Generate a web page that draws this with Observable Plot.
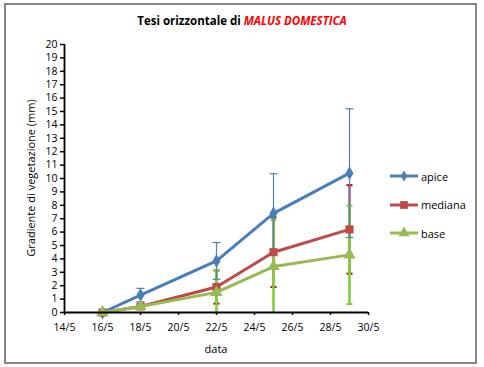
<!DOCTYPE html>
<html>
<head>
<meta charset="utf-8">
<script src="https://cdn.jsdelivr.net/npm/d3@7"></script>
<script src="https://cdn.jsdelivr.net/npm/@observablehq/plot@0.6"></script>
<style>
  body { margin: 0; background: #fff; }
  #wrap { position: relative; width: 484px; height: 367px; font-family: "Open Sans", "Noto Sans", sans-serif; }
  #frame { position: absolute; left: 4px; top: 3px; width: 469px; height: 357px; border: 2px solid #858585; }
  #title { position: absolute; left: 0; width: 484px; top: 13px; text-align: center; font-size: 11.5px; font-weight: bold; color: #000; }
  #title span { color: #ff0000; font-style: italic; }
  #ylab { position: absolute; left: 30px; top: 178px; transform: translate(-50%, -50%) rotate(-90deg); white-space: nowrap; font-size: 11px; }
  #xlab { position: absolute; left: 216px; top: 348px; transform: translate(-50%, -50%); font-size: 11px; }
  #legend { position: absolute; left: 388px; top: 162px; font-size: 11px; }
  .item { display: flex; align-items: center; height: 28.5px; }
  .item svg { margin-right: 1px; }
  svg.plot { position: absolute; left: 0; top: 0; }
</style>
</head>
<body>
<div id="wrap">
  <div id="frame"></div>
  <div id="title">Tesi orizzontale di <span>MALUS DOMESTICA</span></div>
  <div id="ylab">Gradiente di vegetazione (mm)</div>
  <div id="xlab">data</div>
  <div id="legend"></div>
</div>
<script>
// Data (day of May)
const dates = [16, 18, 22, 25, 29];
const apice = [0, 1.3, 3.85, 7.4, 10.4];
const apiceErr = [0, 0.5, 1.37, 2.95, 4.8];
const mediana = [0, 0.45, 1.9, 4.5, 6.2];
const medianaErr = [0, 0.1, 1.24, 2.6, 3.3];
const base = [0, 0.45, 1.5, 3.43, 4.3];
const baseErr = [0, 0.1, 1.68, 3.47, 3.67];
const xTicks = [14, 16, 18, 20, 22, 24, 26, 28, 30];
const yTicks = d3.range(0, 21);
const seriesNames = ["apice", "mediana", "base"];

const series = [
  {name: seriesNames[0], vals: apice, err: apiceErr, color: "#4a7ebb", errColor: "#4f81bd", errW: 1.2, cap: 4, symbol: "diamond", r: 4.2},
  {name: seriesNames[1], vals: mediana, err: medianaErr, color: "#be4b48", errColor: "#c00000", errW: 2, cap: 3, symbol: "square", r: 4.6},
  {name: seriesNames[2], vals: base, err: baseErr, color: "#98b954", errColor: "#7ed03b", errW: 2.6, cap: 3, symbol: "triangle", r: 4.6}
];
const rows = s => dates.map((d, i) => ({x: d, y: s.vals[i], lo: s.vals[i] - s.err[i], hi: s.vals[i] + s.err[i]}));

const capSym = w => ({draw(ctx, size) { ctx.moveTo(-w, 0); ctx.lineTo(w, 0); }});

const errOrder = [series[1], series[2], series[0]];
const marks = [];
for (const s of errOrder) {
  const data = rows(s).filter(d => d.hi > d.lo);
  marks.push(Plot.ruleX(data, {x: "x", y1: d => Math.max(0, d.lo), y2: "hi", stroke: s.errColor, strokeWidth: s.errW}));
  marks.push(Plot.dot(data, {x: "x", y: "hi", symbol: capSym(s.cap), r: 3, stroke: s.errColor, strokeWidth: Math.min(2, s.errW), fill: "none"}));
  marks.push(Plot.dot(data.filter(d => d.lo >= 0), {x: "x", y: "lo", symbol: capSym(s.cap), r: 3, stroke: s.errColor, strokeWidth: Math.min(2, s.errW), fill: "none"}));
}
for (const s of series) {
  const data = rows(s);
  marks.push(Plot.line(data, {x: "x", y: "y", stroke: s.color, strokeWidth: 3}));
  marks.push(Plot.dot(data, {x: "x", y: "y", symbol: s.symbol, r: s.r, fill: s.color}));
}

const chart = Plot.plot({
  width: 484, height: 367,
  marginLeft: 64, marginRight: 116, marginTop: 44, marginBottom: 55,
  style: {fontFamily: "'Open Sans', 'Noto Sans', sans-serif", fontSize: "10.5px", color: "#000", background: "transparent"},
  x: {domain: [14, 30]},
  y: {domain: [0, 20]},
  marks: [
    Plot.axisY({ticks: yTicks, tickSize: 4, tickPadding: 3, label: null, stroke: "#000", strokeWidth: 1.5, fontSize: 10.5}),
    Plot.axisX({ticks: xTicks, tickFormat: d => d + "/5", tickSize: 3, tickPadding: 8, label: null, stroke: "#000", strokeWidth: 1.5, fontSize: 10.5}),
    Plot.ruleX([14], {stroke: "#000", strokeWidth: 1.8}),
    ...marks,
    Plot.ruleY([0], {stroke: "#000", strokeWidth: 1.8})
  ]
});
chart.classList.add("plot");
document.getElementById("wrap").insertBefore(chart, document.getElementById("frame").nextSibling);

// Legend
const legend = document.getElementById("legend");
for (const s of series) {
  const item = document.createElement("div");
  item.className = "item";
  const sym = d3.symbol(s.symbol === "diamond" ? d3.symbolDiamond : s.symbol === "square" ? d3.symbolSquare : d3.symbolTriangle, s.symbol === "diamond" ? 36 : s.symbol === "square" ? 60 : 55)();
  item.innerHTML = `<svg width="32" height="14"><line x1="2" x2="30" y1="7" y2="7" stroke="${s.color}" stroke-width="3"/><path d="${sym}" transform="translate(16,7)" fill="${s.color}"/></svg><span>${s.name}</span>`;
  legend.appendChild(item);
}
</script>
</body>
</html>
